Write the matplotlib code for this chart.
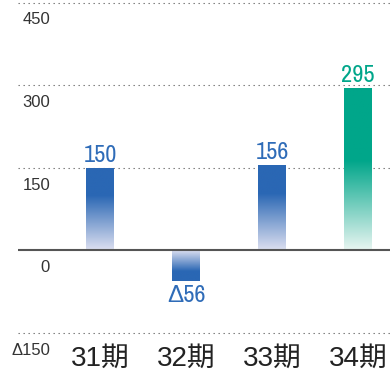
import numpy as np
import matplotlib
matplotlib.use("Agg")
import matplotlib.pyplot as plt
from matplotlib.colors import to_rgb
import matplotlib.transforms as mtransforms

# ---- data ----
categories = ["31期", "32期", "33期", "34期"]
values = [150, -56, 156, 295]
value_labels = ["150", "Δ56", "156", "295"]
tick_values = [450, 300, 150, 0, -150]
tick_labels = ["450", "300", "150", "0", "Δ150"]

blue = "#2a67b4"
blue_light = "#dcdff0"
green = "#00a68a"
green_light = "#e8f5f1"
bar_colors = [blue, blue, blue, green]
light_colors = [blue_light, blue_light, blue_light, green_light]
fade_frac = [0.66, 0.68, 0.66, 0.55]
label_colors = ["#2f6cb8", "#2f6cb8", "#2f6cb8", "#00a68a"]

fig = plt.figure(figsize=(3.9, 3.71), dpi=100)
ax = fig.add_axes([0, 0, 1, 1])
ax.set_xlim(-100 / 86, 290 / 86)
ax.set_ylim(-219.0, 455.2)
ax.axis("off")

x = np.arange(len(categories))
bars = ax.bar(x, values, width=0.32, color="none", edgecolor="none", zorder=3)

# gradient fills
for b, v, c_full, c_light, ff in zip(bars, values, bar_colors, light_colors, fade_frac):
    n = 200
    t = np.linspace(0, 1, n)  # 0 at zero line, 1 at bar end
    w = np.clip(t / ff, 0, 1)
    cf = np.array(to_rgb(c_full))
    cl = np.array(to_rgb(c_light))
    cols = cl[None, :] * (1 - w[:, None]) + cf[None, :] * w[:, None]
    img = cols[:, None, :]
    x0 = b.get_x()
    x1 = x0 + b.get_width()
    im = ax.imshow(img, extent=(x0, x1, 0, v), origin="lower", aspect="auto",
                   interpolation="bilinear", zorder=3)
    im.set_clip_path(b)

# grid lines
gx0 = (18 - 100) / 86
xmax = ax.get_xlim()[1]
for tv in tick_values:
    if tv == 0:
        ax.plot([gx0, xmax], [0, 0], color="#555555", lw=1.5,
                solid_capstyle="butt", zorder=4)
    else:
        ax.plot([gx0, xmax], [tv, tv], color="#6e6e6e", lw=0.8,
                linestyle=(0, (1.2, 3.3)), zorder=1)

# y tick labels (right-aligned under each line)
tx = (50 - 100) / 86
for tv, tl in zip(tick_values, tick_labels):
    ax.annotate(tl, (tx, tv), xytext=(0, -12.3), textcoords="offset points",
                ha="right", va="center", fontsize=12, color="#333333",
                family=["Liberation Sans", "DejaVu Sans"])

# value labels
for xi, v, lab, lc in zip(x, values, value_labels, label_colors):
    off = 4.1 if v >= 0 else -14.8
    ax.annotate(lab, (xi, v), xytext=(0, off), textcoords="offset points",
                ha="center", va="baseline", fontsize=17.5, color=lc,
                family=["Archivo Narrow", "Liberation Sans"])

# category labels
trans = mtransforms.blended_transform_factory(ax.transData, ax.transAxes)
for xi, cat in zip(x, categories):
    ax.text(xi, 1 - 365.5 / 371, cat, transform=trans, ha="center",
            va="baseline", fontsize=20, color="#222222",
            family=["Liberation Sans", "Noto Sans CJK JP"])

fig.savefig("out.png", dpi=100)
